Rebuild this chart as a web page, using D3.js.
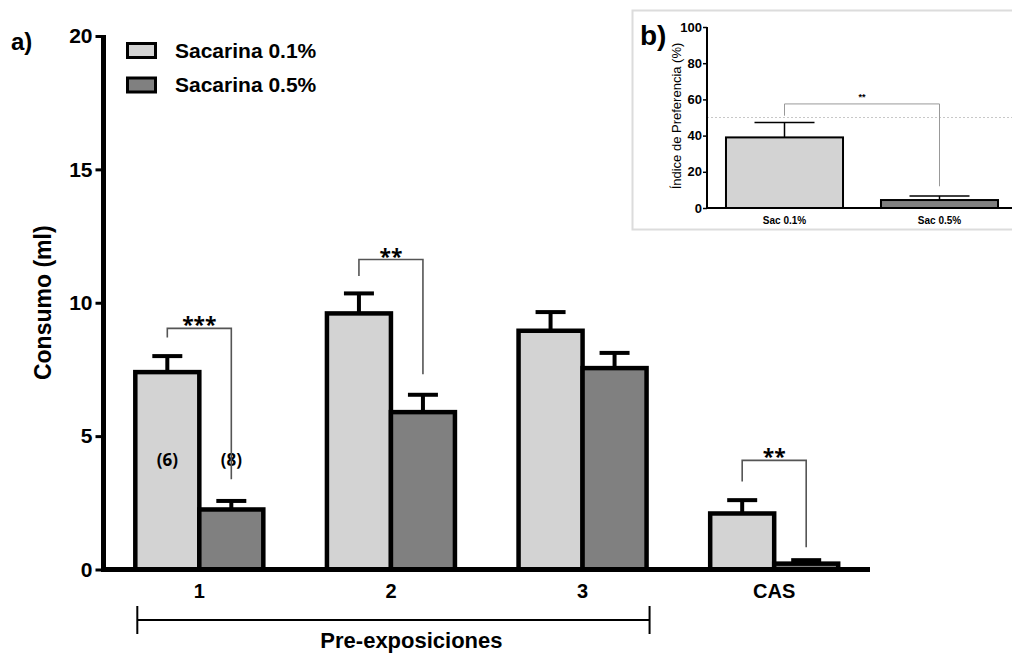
<!DOCTYPE html>
<html>
<head>
<meta charset="utf-8">
<script src="https://cdn.jsdelivr.net/npm/d3@7"></script>
<style>
  html, body { margin: 0; padding: 0; background: #fff; }
  svg { display: block; font-family: "Liberation Sans", Arial, sans-serif; }
</style>
</head>
<body>
<svg id="chart" width="1012" height="654"></svg>
<script>
// Panel a: saccharin consumption per pre-exposure session
const categories = ["1", "2", "3", "CAS"];
const seriesNames = ["Sacarina 0.1%", "Sacarina 0.5%"];
const sac01 = [7.4, 9.6, 8.95, 2.1];
const sac01Err = [0.6, 0.75, 0.7, 0.5];
const sac05 = [2.25, 5.9, 7.55, 0.22];
const sac05Err = [0.32, 0.65, 0.57, 0.13];
const yTicks = [0, 5, 10, 15, 20];
const groupSizes = ["(6)", "(8)"];

// Significance brackets: group, stars, bracket top, left drop, right drop (ml)
const sigGroups = ["1", "2", "CAS"];
const sigLabels = ["***", "**", "**"];
const sigTop = [9.04, 11.62, 4.09];
const sigLeft = [8.7, 11.0, 3.3];
const sigRight = [3.38, 7.32, 0.83];

// Panel b: preference index
const prefCats = ["Sac 0.1%", "Sac 0.5%"];
const prefValues = [39, 4.4];
const prefErr = [8.3, 2.2];
const prefTicks = [0, 20, 40, 60, 80, 100];
const prefRef = 50;
const prefSig = { label: "**", top: 57.5, left: 51, right: 12 };

const colors = ["#d3d3d3", "#808080"];
const svg = d3.select("#chart");

// ---------- panel a ----------
const x = d3.scaleBand().domain(categories).range([103.5, 870]).padding(0);
const y = d3.scaleLinear().domain([0, 20]).range([569.5, 36]);
const barW = x.step() * 0.334;
const cx = c => x(c) + x.step() / 2;

const a = svg.append("g");

// bars
const series = [
  { vals: sac01, errs: sac01Err, side: -1, color: colors[0] },
  { vals: sac05, errs: sac05Err, side: 0, color: colors[1] }
];
series.forEach(s => {
  const g = a.append("g");
  const mid = c => cx(c) + (s.side === -1 ? -barW / 2 : barW / 2);
  // error bars (upper only)
  g.selectAll("line.stem").data(categories).join("line")
    .attr("x1", mid).attr("x2", mid)
    .attr("y1", (c, i) => y(s.vals[i]))
    .attr("y2", (c, i) => y(s.vals[i] + s.errs[i]))
    .attr("stroke", "#000").attr("stroke-width", 4);
  g.selectAll("line.cap").data(categories).join("line")
    .attr("x1", c => mid(c) - 15)
    .attr("x2", c => mid(c) + 15)
    .attr("y1", (c, i) => y(s.vals[i] + s.errs[i]))
    .attr("y2", (c, i) => y(s.vals[i] + s.errs[i]))
    .attr("stroke", "#000").attr("stroke-width", 4);
  g.selectAll("rect").data(categories).join("rect")
    .attr("x", c => cx(c) + (s.side === -1 ? -barW : 0))
    .attr("y", (c, i) => y(s.vals[i]))
    .attr("width", barW)
    .attr("height", (c, i) => y(0) - y(s.vals[i]))
    .attr("fill", s.color)
    .attr("stroke", "#000").attr("stroke-width", 4.5);
});

// group size labels inside group 1
a.selectAll("text.n").data(groupSizes).join("text")
  .attr("x", (d, i) => cx(categories[0]) + (i === 0 ? -barW / 2 : barW / 2))
  .attr("y", y(4.1))
  .attr("dy", "0.35em")
  .attr("text-anchor", "middle")
  .style("font-family", "'Open Sans', Lato, sans-serif")
  .style("font-weight", "bold").style("font-size", "17px")
  .text(d => d);

// significance brackets
sigGroups.forEach((gName, i) => {
  const xl = cx(gName) - barW / 2, xr = cx(gName) + barW / 2;
  a.append("path")
    .attr("d", `M${xl},${y(sigLeft[i])}V${y(sigTop[i])}H${xr}V${y(sigRight[i])}`)
    .attr("fill", "none").attr("stroke", "#555").attr("stroke-width", 1.6);
  a.append("text")
    .attr("x", cx(gName)).attr("y", y(sigTop[i]) + 4)
    .attr("text-anchor", "middle")
    .style("font-family", "'Open Sans', Lato, sans-serif")
    .style("font-size", "21px").style("font-weight", "bold")
    .text(sigLabels[i]);
});

// y axis
const yAxis = a.append("g").attr("transform", "translate(103.5,0)")
  .call(d3.axisLeft(y).tickValues(yTicks).tickSize(8).tickPadding(3).tickFormat(d3.format("d")));
yAxis.select(".domain").attr("stroke-width", 5).attr("d", `M0,${y(20) - 1}V${y(0)}`);
yAxis.selectAll(".tick line").attr("stroke-width", 3);
yAxis.selectAll(".tick text").style("font-size", "21px").style("font-weight", "bold")
  .style("font-family", "'Liberation Sans', Arial, sans-serif").attr("fill", "#000");

// x axis
const xAxis = a.append("g").attr("transform", `translate(0,${y(0)})`)
  .call(d3.axisBottom(x).tickSize(0).tickPadding(14));
xAxis.select(".domain").attr("stroke-width", 5).attr("d", `M101,0H870`);
xAxis.selectAll(".tick text").style("font-size", "20px").style("font-weight", "bold")
  .style("font-family", "'Liberation Sans', Arial, sans-serif").attr("fill", "#000");

// y axis title
a.append("text")
  .attr("transform", `translate(51,${y(10)}) rotate(-90)`)
  .attr("text-anchor", "middle")
  .style("font-size", "23px").style("font-weight", "bold")
  .text("Consumo (ml)");

// pre-exposure bracket under sessions 1-3
const bx1 = cx("1") - barW + 2, bx2 = cx("3") + barW + 3;
a.append("path")
  .attr("d", `M${bx1},620H${bx2}M${bx1},606V634M${bx2},606V634`)
  .attr("fill", "none").attr("stroke", "#000").attr("stroke-width", 2);
a.append("text")
  .attr("x", (bx1 + bx2) / 2 + 18).attr("y", 648)
  .attr("text-anchor", "middle")
  .style("font-size", "22px").style("font-weight", "bold")
  .text("Pre-exposiciones");

// panel label
a.append("text").attr("x", 11).attr("y", 50)
  .style("font-size", "24px").style("font-weight", "bold").text("a)");

// legend
seriesNames.forEach((name, i) => {
  const ly = 43.5 + i * 34.5;
  a.append("rect").attr("x", 127.5).attr("y", ly).attr("width", 28).attr("height", 14)
    .attr("fill", colors[i]).attr("stroke", "#000").attr("stroke-width", 3);
  a.append("text").attr("x", 175).attr("y", ly + 7).attr("dy", "0.35em")
    .style("font-size", "21px").style("font-weight", "bold").text(name);
});

// ---------- panel b (inset) ----------
const b = svg.append("g");
b.append("rect").attr("x", 632.5).attr("y", 10.5).attr("width", 400).attr("height", 219)
  .attr("fill", "#fff").attr("stroke", "#dcdcdc").attr("stroke-width", 2);

const xb = d3.scaleBand().domain(prefCats).range([707, 1017]).padding(0);
const yb = d3.scaleLinear().domain([0, 100]).range([208, 27]);
const bW = xb.step() * 0.755;
const bcx = c => xb(c) + xb.step() / 2;

// reference line at 50 %
b.append("line").attr("x1", 707).attr("x2", 1012).attr("y1", yb(prefRef)).attr("y2", yb(prefRef))
  .attr("stroke", "#c8c8c8").attr("stroke-width", 1).attr("stroke-dasharray", "2,2");

// error bars
b.selectAll("line.stem").data(prefCats).join("line")
  .attr("x1", c => bcx(c)).attr("x2", c => bcx(c))
  .attr("y1", (c, i) => yb(prefValues[i])).attr("y2", (c, i) => yb(prefValues[i] + prefErr[i]))
  .attr("stroke", "#000").attr("stroke-width", 1.5);
b.selectAll("line.cap").data(prefCats).join("line")
  .attr("x1", c => bcx(c) - 30).attr("x2", c => bcx(c) + 30)
  .attr("y1", (c, i) => yb(prefValues[i] + prefErr[i])).attr("y2", (c, i) => yb(prefValues[i] + prefErr[i]))
  .attr("stroke", "#000").attr("stroke-width", 1.5);

b.selectAll("rect.bar").data(prefCats).join("rect")
  .attr("x", c => bcx(c) - bW / 2)
  .attr("y", (c, i) => yb(prefValues[i]))
  .attr("width", bW)
  .attr("height", (c, i) => yb(0) - yb(prefValues[i]))
  .attr("fill", (c, i) => colors[i])
  .attr("stroke", "#000").attr("stroke-width", 2);

// significance bracket
const sl = bcx(prefCats[0]), sr = bcx(prefCats[1]);
b.append("path")
  .attr("d", `M${sl},${yb(prefSig.left)}V${yb(prefSig.top)}H${sr}V${yb(prefSig.right)}`)
  .attr("fill", "none").attr("stroke", "#999").attr("stroke-width", 1);
b.append("text").attr("x", (sl + sr) / 2).attr("y", yb(prefSig.top) - 4)
  .attr("text-anchor", "middle").style("font-size", "9px").style("font-weight", "bold")
  .text(prefSig.label);

// axes
const ybAxis = b.append("g").attr("transform", "translate(707,0)")
  .call(d3.axisLeft(yb).tickValues(prefTicks).tickSize(4).tickPadding(1).tickFormat(d3.format("d")));
ybAxis.select(".domain").attr("stroke-width", 2).attr("d", `M0,${yb(100)}V${yb(0)}`);
ybAxis.selectAll(".tick line").attr("stroke-width", 1.5);
ybAxis.selectAll(".tick text").style("font-size", "13px").style("font-weight", "bold")
  .style("font-family", "'Liberation Sans Narrow', 'Liberation Sans', Arial, sans-serif")
  .attr("fill", "#000");

const xbAxis = b.append("g").attr("transform", `translate(0,${yb(0)})`)
  .call(d3.axisBottom(xb).tickSize(0).tickPadding(9));
xbAxis.select(".domain").attr("stroke-width", 2).attr("d", "M706,0H1012");
xbAxis.selectAll(".tick text").style("font-size", "10px").style("font-weight", "bold")
  .style("font-family", "'Liberation Sans Narrow', 'Liberation Sans', Arial, sans-serif").attr("fill", "#000");

b.append("text")
  .attr("transform", `translate(681,116) rotate(-90)`)
  .attr("text-anchor", "middle")
  .style("font-size", "13px")
  .text("Índice de Preferencia (%)");

b.append("text").attr("x", 640).attr("y", 45)
  .style("font-size", "28px").style("font-weight", "bold").text("b)");
</script>
</body>
</html>
